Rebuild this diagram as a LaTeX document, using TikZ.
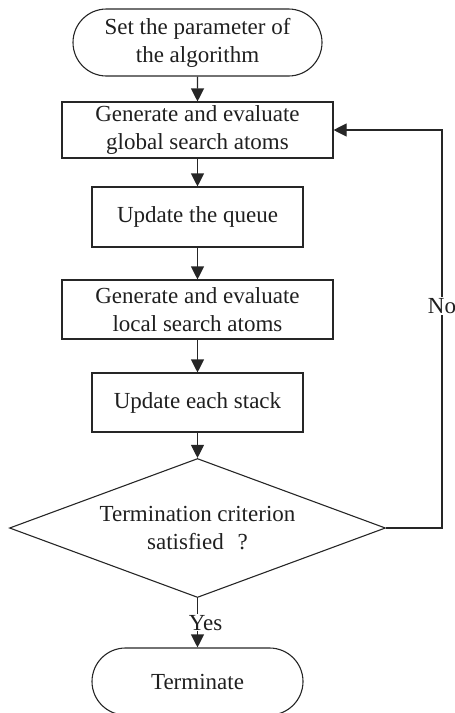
\documentclass[tikz,border=0pt]{standalone}
\usepackage{fontspec}
\setmainfont{Liberation Serif}
\usetikzlibrary{shapes.geometric,shapes.misc,arrows.meta}
\begin{document}
\begin{tikzpicture}[x=1pt,y=-1pt,
  every node/.style={font=\fontsize{23}{28}\selectfont, align=center, text=black!88},
  stadium/.style={draw=black!85, rounded rectangle, line width=1.1pt, minimum height=67pt, inner sep=0pt},
  procbox/.style={draw=black!85, rectangle, line width=1.1pt, inner sep=0pt},
  decision/.style={draw=black!85, diamond, line width=1.1pt, inner sep=0pt, shape aspect=2.7, minimum width=376pt, minimum height=139pt},
  flow/.style={draw=black!85, line width=1.1pt, -{Triangle[width=13pt,length=13pt]}},
  lbl/.style={fill=white, inner sep=1pt}
]
\useasboundingbox (0,0) rectangle (455,713);
\node[stadium, minimum width=249pt] (start) at (197.5,42.5) {Set the parameter of\\the algorithm};
\node[procbox, minimum width=271pt, minimum height=56pt] (b1) at (197.5,130) {Generate and evaluate\\global search atoms};
\node[procbox, minimum width=211pt, minimum height=60pt] (b2) at (197.5,217) {Update the queue};
\node[procbox, minimum width=271pt, minimum height=59pt] (b3) at (197.5,309.5) {Generate and evaluate\\local search atoms};
\node[procbox, minimum width=211pt, minimum height=59pt] (b4) at (197.5,402.5) {Update each stack};
\node[decision] (dec) at (197.5,528) {Termination criterion\\satisfied\hspace{0.6em}?};
\node[stadium, minimum width=211pt] (term) at (197.5,681.5) {Terminate};
\coordinate (fb) at (442,528);
\draw[flow] (start) -- (b1);
\draw[flow] (b1) -- (b2);
\draw[flow] (b2) -- (b3);
\draw[flow] (b3) -- (b4);
\draw[flow] (b4) -- (dec);
\draw[flow] (dec.south) -- node[lbl, xshift=8pt] (yes) {Yes} (term.north);
\draw[flow] (dec.east) -- (fb) |- (b1.east);
\node[lbl] (no) at (442,306) {No};
\end{tikzpicture}
\end{document}
